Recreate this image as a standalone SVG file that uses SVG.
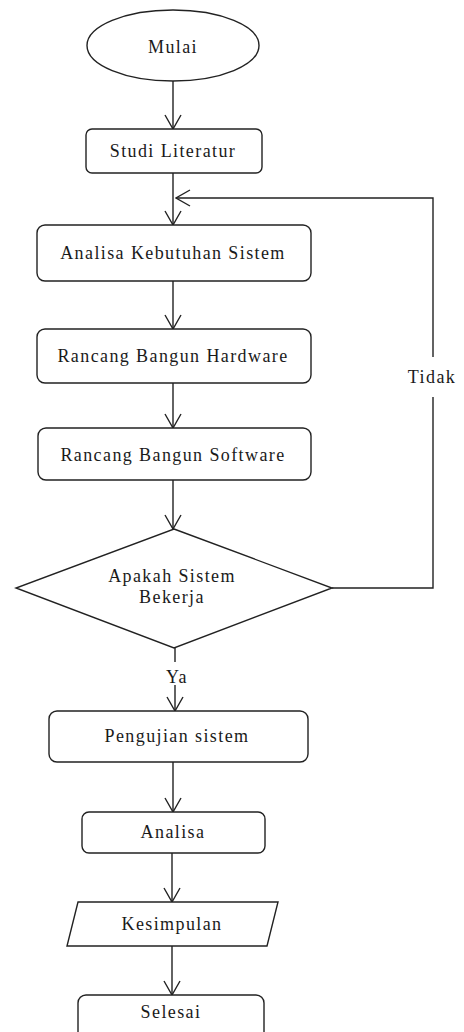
<svg xmlns="http://www.w3.org/2000/svg" width="464" height="1032" viewBox="0 0 464 1032">
<style>
.s{fill:#fff;stroke:#222;stroke-width:1.4}
.t{font-family:"Liberation Serif","Times New Roman",serif;font-size:18px;letter-spacing:1.4px;fill:#1a1a1a;text-anchor:middle}
.c{fill:none;stroke:#222;stroke-width:1.4}
</style>
<defs>
<marker id="a" viewBox="0 0 16 18" refX="15" refY="9" markerWidth="16" markerHeight="18" markerUnits="userSpaceOnUse" orient="auto">
<path d="M1,1 L15,9 L1,17" fill="none" stroke="#222" stroke-width="1.4"/>
</marker>
</defs>
<rect width="464" height="1032" fill="#fff"/>
<g id="connectors">
<line class="c" x1="173" y1="81" x2="173" y2="129" marker-end="url(#a)"/>
<line class="c" x1="173" y1="173" x2="173" y2="225" marker-end="url(#a)"/>
<line class="c" x1="173" y1="281" x2="173" y2="329" marker-end="url(#a)"/>
<line class="c" x1="173" y1="383" x2="173" y2="428" marker-end="url(#a)"/>
<line class="c" x1="173" y1="480" x2="173" y2="529" marker-end="url(#a)"/>
<polyline class="c" points="332,588 433,588 433,397"/>
<polyline class="c" points="433,357 433,198 176,198" marker-end="url(#a)"/>
<line class="c" x1="175" y1="648" x2="175" y2="662"/>
<line class="c" x1="175" y1="685" x2="175" y2="711" marker-end="url(#a)"/>
<line class="c" x1="173" y1="762" x2="173" y2="812" marker-end="url(#a)"/>
<line class="c" x1="172" y1="853" x2="172" y2="902" marker-end="url(#a)"/>
<line class="c" x1="172" y1="946" x2="172" y2="995" marker-end="url(#a)"/>
<text class="t" x="432" y="383">Tidak</text>
<text class="t" x="177" y="683">Ya</text>
</g>
<g id="mulai"><ellipse class="s" cx="173" cy="45.5" rx="86" ry="35.5"/><text class="t" x="173" y="53">Mulai</text></g>
<g id="studi"><rect class="s" x="86" y="129" width="176" height="44" rx="6"/><text class="t" x="173" y="157">Studi Literatur</text></g>
<g id="analisa-kebutuhan"><rect class="s" x="37" y="225" width="274" height="56" rx="8"/><text class="t" x="173" y="259">Analisa Kebutuhan Sistem</text></g>
<g id="hardware"><rect class="s" x="37" y="329" width="274" height="54" rx="8"/><text class="t" x="173" y="362">Rancang Bangun Hardware</text></g>
<g id="software"><rect class="s" x="38" y="428" width="273" height="52" rx="8"/><text class="t" x="173" y="461">Rancang Bangun Software</text></g>
<g id="keputusan"><polygon class="s" points="174,529 332,588 174,648 16,588"/><text class="t" x="172" y="582">Apakah Sistem</text><text class="t" x="172" y="603">Bekerja</text></g>
<g id="pengujian"><rect class="s" x="49" y="711" width="259" height="51" rx="8"/><text class="t" x="177" y="742">Pengujian sistem</text></g>
<g id="analisa"><rect class="s" x="82" y="812" width="183" height="41" rx="7"/><text class="t" x="173" y="838">Analisa</text></g>
<g id="kesimpulan"><polygon class="s" points="78,902 278,902 267,946 67,946"/><text class="t" x="172" y="930">Kesimpulan</text></g>
<g id="selesai"><rect class="s" x="78" y="995" width="186" height="50" rx="8"/><text class="t" x="171" y="1018">Selesai</text></g>
</svg>
